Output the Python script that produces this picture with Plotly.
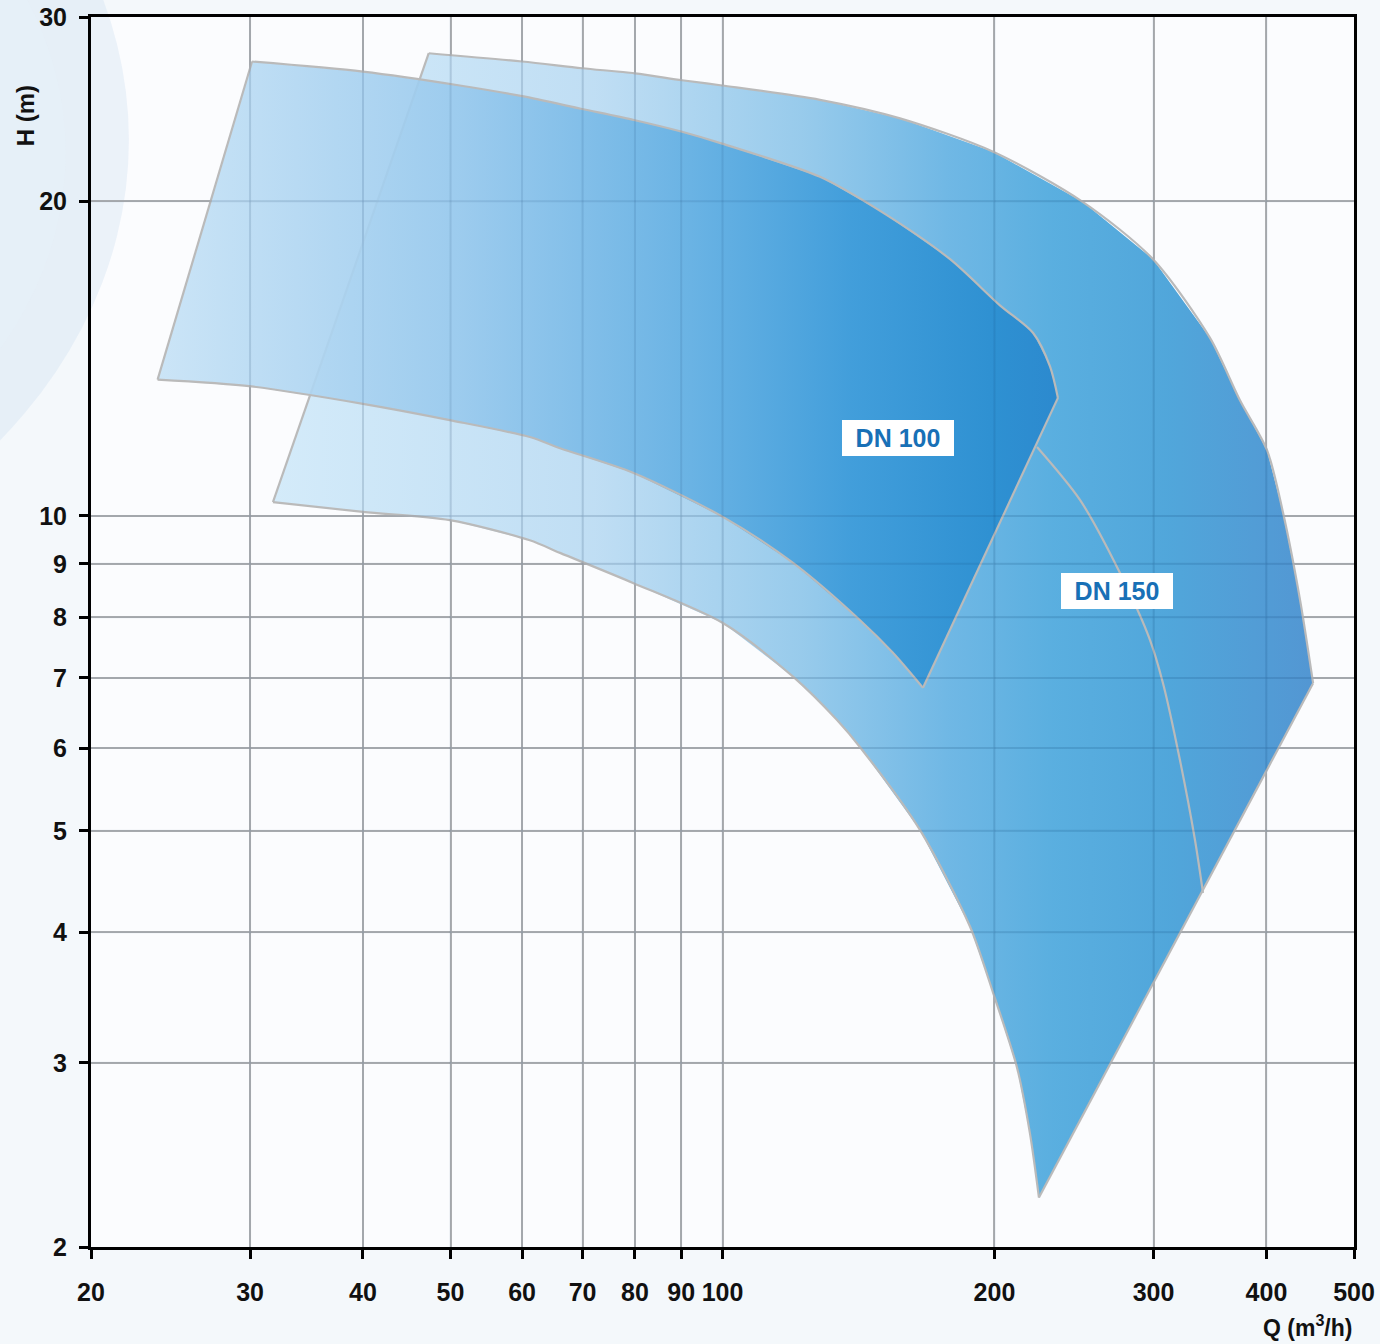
import numpy as np
import plotly.graph_objects as go

# ---------------- data (Q in m3/h, H in m) ----------------
x_ticks = [20, 30, 40, 50, 60, 70, 80, 90, 100, 200, 300, 400, 500]
y_ticks = [2, 3, 4, 5, 6, 7, 8, 9, 10, 20, 30]

# DN 150 operating field
dn150_top_q = [47.3, 60.0, 69.9, 80.0, 90.2, 99.9, 128.2, 157.2, 199.3, 250.6, 299.6, 346.4, 373.9, 400.6, 417.3, 435.8, 450.5]
dn150_top_h = [27.7, 27.2, 26.8, 26.5, 26.1, 25.8, 25.0, 24.0, 22.3, 19.96, 17.6, 14.8, 12.9, 11.56, 10.07, 8.31, 6.92]
dn150_bot_q = [224.0, 218.9, 211.8, 199.3, 187.9, 165.4, 142.0, 133.9, 119.7, 100.1, 79.6, 66.1, 61.2, 49.9, 40.0, 31.8]
dn150_bot_h = [2.23, 2.57, 2.97, 3.50, 4.05, 5.01, 6.01, 6.38, 7.02, 7.90, 8.63, 9.22, 9.48, 9.91, 10.09, 10.31]

# inner boundary line inside DN 150
dn150_inner_q = [222.9, 248.7, 275.4, 297.3, 307.3, 320.9, 333.4, 340.3]
dn150_inner_h = [11.64, 10.36, 8.82, 7.61, 6.92, 5.84, 4.90, 4.36]

# DN 100 operating field
dn100_top_q = [30.15, 40.0, 51.2, 60.0, 69.9, 80.0, 90.2, 99.9, 128.2, 150.5, 178.6, 202.8, 220.7, 230.4, 235.1]
dn100_top_h = [27.2, 26.6, 25.8, 25.2, 24.5, 23.9, 23.3, 22.7, 21.1, 19.5, 17.6, 15.9, 14.96, 13.9, 12.97]
dn100_bot_q = [166.7, 154.4, 142.0, 119.7, 100.1, 79.6, 66.1, 61.2, 49.9, 40.0, 30.1, 23.7]
dn100_bot_h = [6.85, 7.40, 7.95, 9.02, 9.98, 11.0, 11.61, 11.9, 12.35, 12.8, 13.3, 13.5]

labels = ["DN 100", "DN 150"]
label_q = [156.4, 273.3]
label_h = [11.87, 8.48]

# ---------------- figure ----------------
FONT = "Liberation Sans, Arial, sans-serif"
outline = "#bababa"
fig = go.Figure()


def add_field(top_q, top_h, bot_q, bot_h, scale):
    q = top_q + bot_q + [top_q[0]]
    h = top_h + bot_h + [top_h[0]]
    fig.add_trace(go.Scatter(
        x=q, y=h, mode="lines", fill="toself",
        line=dict(color="rgba(0,0,0,0)", width=0),
        fillgradient=dict(type="horizontal", colorscale=scale),
        hoverinfo="skip", showlegend=False,
    ))


def add_outline(top_q, top_h, bot_q, bot_h):
    for xs, ys in ((top_q, top_h), (bot_q, bot_h)):
        fig.add_trace(go.Scatter(
            x=xs, y=ys, mode="lines", line=dict(color=outline, width=2.2, shape="spline", smoothing=0.8),
            hoverinfo="skip", showlegend=False,
        ))
    fig.add_trace(go.Scatter(
        x=[top_q[-1], bot_q[0], None, bot_q[-1], top_q[0]],
        y=[top_h[-1], bot_h[0], None, bot_h[-1], top_h[0]],
        mode="lines", line=dict(color=outline, width=2.2), connectgaps=False,
        hoverinfo="skip", showlegend=False,
    ))


add_field(dn150_top_q, dn150_top_h, dn150_bot_q, dn150_bot_h, [
    [0.0, "rgba(205,232,249,0.85)"],
    [0.31, "rgba(182,217,242,0.86)"],
    [0.51, "rgba(138,196,233,0.88)"],
    [0.65, "rgba(96,176,226,0.9)"],
    [0.75, "rgba(76,168,221,0.92)"],
    [0.86, "rgba(68,160,216,0.93)"],
    [1.0, "rgba(72,144,208,0.94)"],
])
add_outline(dn150_top_q, dn150_top_h, dn150_bot_q, dn150_bot_h)
fig.add_trace(go.Scatter(
    x=dn150_inner_q, y=dn150_inner_h, mode="lines",
    line=dict(color=outline, width=2.2, shape="spline", smoothing=0.8),
    hoverinfo="skip", showlegend=False,
))

add_field(dn100_top_q, dn100_top_h, dn100_bot_q, dn100_bot_h, [
    [0.0, "rgba(198,226,246,0.9)"],
    [0.34, "rgba(152,201,237,0.92)"],
    [0.6, "rgba(100,176,227,0.94)"],
    [0.77, "rgba(62,156,218,0.95)"],
    [0.93, "rgba(44,143,209,0.96)"],
    [1.0, "rgba(42,136,206,0.96)"],
])
add_outline(dn100_top_q, dn100_top_h, dn100_bot_q, dn100_bot_h)

# grid lines shown through the translucent fields (darker tint on top)
gx, gy = [], []
for v in x_ticks[1:-1]:
    gx += [v, v, None]
    gy += [y_ticks[0], y_ticks[-1], None]
for v in y_ticks[1:-1]:
    gx += [x_ticks[0], x_ticks[-1], None]
    gy += [v, v, None]
fig.add_trace(go.Scatter(
    x=gx, y=gy, mode="lines", line=dict(color="rgba(10,50,100,0.10)", width=2),
    hoverinfo="skip", showlegend=False,
))

for t, q, h in zip(labels, label_q, label_h):
    fig.add_annotation(
        x=np.log10(q), y=np.log10(h), xref="x", yref="y", text=t,
        showarrow=False, bgcolor="white", bordercolor="white", borderwidth=1,
        borderpad=3, width=104, height=28,
        font=dict(family=FONT, size=25, color="#1870b6", weight="bold"),
    )

fig.add_annotation(
    x=1.0, y=-0.064, xref="paper", yref="paper", xanchor="right", yanchor="middle",
    text="Q (m<sup>3</sup>/h)", showarrow=False,
    font=dict(family=FONT, size=23, color="#111111", weight="bold"),
)
fig.add_annotation(
    x=-0.0523, y=0.92, xref="paper", yref="paper", xanchor="center", yanchor="middle",
    text="H (m)", textangle=-90, showarrow=False,
    font=dict(family=FONT, size=24, color="#111111", weight="bold"),
)

# faint decorative background swooshes
fig.add_shape(type="circle", xref="paper", yref="paper", x0=-0.95, x1=0.03, y0=0.50, y1=1.30,
              line=dict(width=0), fillcolor="rgba(198,220,240,0.30)", layer="below")
fig.add_shape(type="circle", xref="paper", yref="paper", x0=-0.85, x1=-0.02, y0=0.56, y1=1.22,
              line=dict(width=0), fillcolor="rgba(230,240,249,0.6)", layer="below")

axis_font = dict(family=FONT, size=25, color="#111111", weight="bold")
common = dict(
    type="log", showgrid=True, gridcolor="#b5b5b5", gridwidth=2,
    showline=True, linecolor="#000000", linewidth=3, mirror=True,
    ticks="outside", ticklen=9, tickwidth=3, tickcolor="#000000",
    tickfont=axis_font, zeroline=False, automargin=False, ticklabeloverflow="allow",
)
fig.update_xaxes(range=[np.log10(20), np.log10(500)], tickvals=x_ticks,
                 ticktext=[str(v) for v in x_ticks], ticklabelstandoff=12, **common)
fig.update_yaxes(range=[np.log10(2), np.log10(30)], tickvals=y_ticks,
                 ticktext=[str(v) for v in y_ticks], ticklabelstandoff=7, **common)

fig.update_layout(
    width=1380, height=1344,
    margin=dict(l=91, r=26, t=17, b=97),
    paper_bgcolor="#f4f8fb",
    plot_bgcolor="#fbfcfe",
    showlegend=False,
)

# remove the page's default body margin so the figure fills the window exactly
fig.write_html(
    "out.html",
    config={"displayModeBar": False},
    post_script="document.body.style.margin='0';document.body.style.overflow='hidden';",
)
